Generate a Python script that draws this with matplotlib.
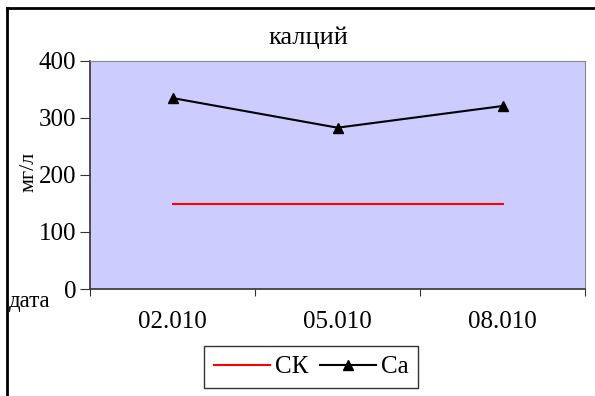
import matplotlib
matplotlib.use("Agg")
import matplotlib.pyplot as plt
from matplotlib.lines import Line2D

dates = ["02.010", "05.010", "08.010"]
sk = [150, 150, 150]
ca = [335, 283, 321]

plt.rcParams['font.family'] = ['Liberation Serif', 'DejaVu Serif']

fig = plt.figure(figsize=(5.95, 3.96), dpi=100)
ax = fig.add_axes([90/595, 1 - 289/396, 495/595, 228/396])
ax.set_facecolor('#ccccff')

x = range(len(dates))
ax.plot(x, sk, color='red', lw=1.5, label='СК')
ax.plot(x, ca, color='black', lw=1.5, marker='^', ms=7, label='Ca')

ax.set_xlim(-0.5, 2.5)
ax.set_ylim(0, 400)
ax.set_yticks([0, 100, 200, 300, 400])
ax.set_xticks([-0.5, 0.5, 1.5, 2.5])
ax.set_xticklabels([])
ax.set_xticks(list(x), minor=True)
ax.set_xticklabels(dates, minor=True)
ax.tick_params(axis='x', which='minor', length=0, pad=16, labelsize=18)
ax.tick_params(axis='x', which='major', length=5, direction='out', color='#333333')
ax.tick_params(axis='y', length=7, labelsize=18, pad=3, color='#333333')
for s in ['top', 'right']:
    ax.spines[s].set_color('#888888')
for s in ['left', 'bottom']:
    ax.spines[s].set_color('#333333')
    ax.spines[s].set_linewidth(1.2)

fig.text(308/595, 1 - 38/396, 'калций', ha='center', va='center', fontsize=19)
fig.text(29/595, 1 - 172/396, 'мг/л', ha='center', va='center', rotation=90, fontsize=16)
fig.text(9/595, 1 - 302/396, 'дата', ha='left', va='center', fontsize=16.5)

leg = fig.legend(loc='center', bbox_to_anchor=(311/595, 1 - 367/396), ncol=2,
                 fontsize=18, frameon=True, fancybox=False, edgecolor='black',
                 handlelength=2.25, columnspacing=0.45, handletextpad=0.2,
                 borderpad=0.4, borderaxespad=0)
leg.get_frame().set_linewidth(1.0)

# outer chart border
fig.add_artist(Line2D([7/595, 7/595], [0, 1 - 8/396], color='black', lw=2, transform=fig.transFigure))
fig.add_artist(Line2D([7/595, 1], [1 - 8/396, 1 - 8/396], color='black', lw=2, transform=fig.transFigure))

fig.savefig('out.png', dpi=100)
